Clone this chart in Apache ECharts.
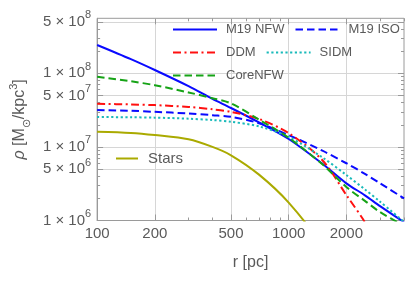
<!DOCTYPE html>
<html><head><meta charset="utf-8">
<script src="https://cdn.jsdelivr.net/npm/echarts@6/dist/echarts.min.js"></script>
<style>html,body{margin:0;padding:0;background:#fff}#c{width:407px;height:305px}</style>
</head><body><div id="c"></div>
<script>
// radius grid [pc]
const radii   = [100, 150, 200, 300, 400, 500, 700, 1000, 1500, 2000, 2500, 3000, 4000];
// densities [Msun/kpc^3]
const m19NFW  = [2.43e8, 1.56e8, 1.11e8, 6.7e7, 4.5e7, 3.38e7, 2.15e7, 1.28e7, 5.9e6, 3.2e6, 2.2e6, 1.57e6, 9.5e5];
const m19ISO  = [3.17e7, 3.1e7, 3.0e7, 2.85e7, 2.7e7, 2.57e7, 2.1e7, 1.45e7, 8.9e6, 6.0e6, 4.3e6, 3.2e6, 2.0e6];
const ddm     = [3.86e7, 3.78e7, 3.7e7, 3.5e7, 3.25e7, 3.0e7, 2.4e7, 1.54e7, 6.6e6, 2.22e6, 9.5e5, 4e5, 1e5];
const sidm    = [2.55e7, 2.53e7, 2.5e7, 2.42e7, 2.32e7, 2.2e7, 1.9e7, 1.37e7, 7.2e6, 4.15e6, 2.65e6, 1.8e6, 9.6e5];
const coreNFW = [9.0e7, 7.8e7, 6.9e7, 5.5e7, 4.6e7, 3.9e7, 2.35e7, 1.33e7, 5.8e6, 2.85e6, 1.85e6, 1.3e6, 8.5e5];
const stars   = [1.61e7, 1.55e7, 1.45e7, 1.27e7, 1.0e7, 7.7e6, 4.2e6, 1.75e6, 4.5e5, 1.2e5, 4e4, 1.5e4, 3e3];

const seriesNames = ['M19 NFW', 'M19 ISO', 'DDM', 'SIDM', 'CoreNFW', 'Stars'];

// axis ticks
const xRange = [100, 4000];
const yRange = [1e6, 5.6e8];
const xMajor = [100, 200, 500, 1000, 2000];
const xMinor = [300, 400, 600, 700, 800, 900, 3000, 4000];
const yMajor = [1e6, 5e6, 1e7, 5e7, 1e8, 5e8];
const yMinor = [2e6, 3e6, 4e6, 6e6, 7e6, 8e6, 9e6, 2e7, 3e7, 4e7, 6e7, 7e7, 8e7, 9e7, 2e8, 3e8, 4e8];

const FONT = '"Liberation Sans", Arial, sans-serif';
const TXT = '#5a5a5a';
const AX = '#9a9a9a';
const GRIDC = '#d6d6d6';

function pairs(vals) { return radii.map((r, i) => [r, vals[i]]); }
function supLabel(v) {
  const e = Math.floor(Math.log10(v) + 1e-9);
  const m = Math.round(v / Math.pow(10, e));
  return '{a|' + m + ' \u00d7 10}{b|' + e + '}';
}

function xAxisDef(pos, ticks, len, main) {
  return {
    type: 'log', logBase: 10, min: xRange[0], max: xRange[1], position: pos, offset: 0,
    axisLine: { show: main, lineStyle: { color: AX, width: 1 } },
    axisTick: { show: true, inside: true, length: len, customValues: ticks, lineStyle: { color: AX, width: 1 } },
    axisLabel: { show: main && pos === 'bottom', customValues: ticks, color: TXT, fontSize: 15, fontFamily: FONT, margin: 6,
      formatter: v => String(Math.round(v)) },
    splitLine: { show: main && pos === 'bottom', lineStyle: { color: GRIDC, width: 1 } },
    minorTick: { show: false }, minorSplitLine: { show: false },
    name: (main && pos === 'bottom') ? 'r [pc]' : '',
    nameLocation: 'middle', nameGap: 34,
    nameTextStyle: { color: TXT, fontSize: 16, fontFamily: FONT }
  };
}
function yAxisDef(pos, ticks, len, main) {
  return {
    type: 'log', logBase: 10, min: yRange[0], max: yRange[1], position: pos, offset: 0,
    axisLine: { show: main, lineStyle: { color: AX, width: 1 } },
    axisTick: { show: true, inside: true, length: len, customValues: ticks, lineStyle: { color: AX, width: 1 } },
    axisLabel: {
      show: main && pos === 'left', customValues: ticks, margin: 6,
      formatter: supLabel,
      rich: {
        a: { fontSize: 15, color: TXT, fontFamily: FONT, lineHeight: 24 },
        b: { fontSize: 11, color: TXT, fontFamily: FONT, lineHeight: 12, verticalAlign: 'top' }
      }
    },
    splitLine: { show: main && pos === 'left', lineStyle: { color: GRIDC, width: 1 } },
    minorTick: { show: false }, minorSplitLine: { show: false },
    name: (main && pos === 'left') ? '{i|\u03c1} [M{s|\u2299}/kpc{p|3}]' : '',
    nameLocation: 'middle', nameGap: 60, nameRotate: 90,
    nameTextStyle: {
      color: TXT, fontSize: 16, fontFamily: FONT,
      rich: {
        i: { fontSize: 16, fontStyle: 'italic', color: TXT, fontFamily: FONT, lineHeight: 24 },
        s: { fontSize: 11, color: TXT, fontFamily: FONT, lineHeight: 12, verticalAlign: 'bottom' },
        p: { fontSize: 11, color: TXT, fontFamily: FONT, lineHeight: 12, verticalAlign: 'top' }
      }
    }
  };
}

const styles = [
  { color: '#0a0aff', type: 'solid' },
  { color: '#0a0aff', type: [7.5, 4] },
  { color: '#ff1010', type: [8, 3.5, 2, 3.5] },
  { color: '#19baba', type: [2.2, 2.5] },
  { color: '#16a316', type: [7.5, 4] },
  { color: '#aaaa00', type: 'solid' }
];
const dataSets = [m19NFW, m19ISO, ddm, sidm, coreNFW, stars];

const series = dataSets.map((d, i) => ({
  name: seriesNames[i], type: 'line', xAxisIndex: 0, yAxisIndex: 0,
  data: pairs(d), showSymbol: false, symbol: 'none', smooth: 0.3, clip: true,
  lineStyle: { color: styles[i].color, width: 2, type: styles[i].type, cap: 'butt' },
  itemStyle: { color: styles[i].color },
  emphasis: { disabled: true }, silent: true, animation: false
}));

const legendCommon = {
  padding: 0, orient: 'horizontal', itemHeight: 14,
  itemStyle: { opacity: 0, borderWidth: 0 },
  selectedMode: false
};

const chart = echarts.init(document.getElementById('c'), null, { renderer: 'canvas' });
chart.setOption({
  backgroundColor: '#ffffff',
  animation: false,
  grid: { left: 78, right: 3, top: 18.3, bottom: 84.5, show: true, borderColor: AX, borderWidth: 1, backgroundColor: 'transparent' },
  xAxis: [
    xAxisDef('bottom', xMajor, 6, true),
    xAxisDef('bottom', xMinor, 3, false),
    xAxisDef('top', xMajor, 6, false),
    xAxisDef('top', xMinor, 3, false)
  ],
  yAxis: [
    yAxisDef('left', yMajor, 6, true),
    yAxisDef('left', yMinor, 3, false),
    yAxisDef('right', yMajor, 6, false),
    yAxisDef('right', yMinor, 3, false)
  ],
  legend: [
    Object.assign({}, legendCommon, {
      data: seriesNames.slice(0, 5), left: 172, top: 23, width: 235,
      itemWidth: 44, itemGap: 10,
      textStyle: { color: TXT, fontSize: 13, fontFamily: FONT, padding: [0, 0, 0, 4] }
    }),
    Object.assign({}, legendCommon, {
      data: ['Stars'], left: 115, top: 151,
      itemWidth: 22,
      textStyle: { color: TXT, fontSize: 15, fontFamily: FONT, padding: [0, 0, 0, 5] }
    })
  ],
  series: series
});
</script></body></html>
